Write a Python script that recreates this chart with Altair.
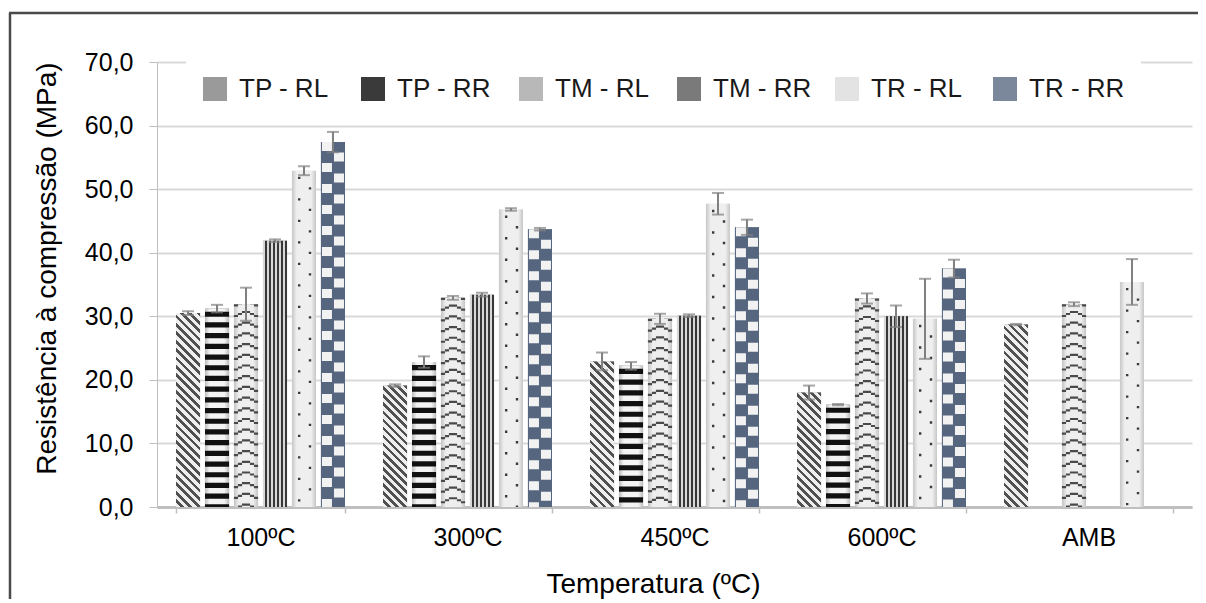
import altair as alt
import pandas as pd

# ---------------- data ----------------
categories = ["100ºC", "300ºC", "450ºC", "600ºC", "AMB"]
series_names = ["TP - RL", "TP - RR", "TM - RL", "TM - RR", "TR - RL", "TR - RR"]

tp_rl = [30.5, 19.1, 22.9, 18.0, 28.7]
tp_rl_err = [0.3, 0.2, 1.4, 1.1, 0.1]
tp_rr = [31.2, 22.8, 22.2, 16.1, None]
tp_rr_err = [0.6, 0.9, 0.6, 0.1, None]
tm_rl = [31.9, 32.9, 29.6, 32.8, 31.9]
tm_rl_err = [2.6, 0.3, 0.8, 0.8, 0.3]
tm_rr = [41.9, 33.4, 30.1, 30.0, None]
tm_rr_err = [0.2, 0.3, 0.2, 1.7, None]
tr_rl = [52.9, 46.8, 47.7, 29.6, 35.4]
tr_rl_err = [0.7, 0.2, 1.7, 6.3, 3.6]
tr_rr = [57.4, 43.7, 44.0, 37.5, None]
tr_rr_err = [1.6, 0.2, 1.2, 1.4, None]

y_ticks = [0, 10, 20, 30, 40, 50, 60, 70]

values = [tp_rl, tp_rr, tm_rl, tm_rr, tr_rl, tr_rr]
errors = [tp_rl_err, tp_rr_err, tm_rl_err, tm_rr_err, tr_rl_err, tr_rr_err]

rows = []
for s, vals, errs in zip(series_names, values, errors):
    for c, v, e in zip(categories, vals, errs):
        if v is None:
            continue
        rows.append({"cat": c, "series": s, "value": v, "lo": v - e, "hi": v + e})
df = pd.DataFrame(rows)

# ---------------- layout / style ----------------
FONT = "Liberation Sans"
W, H = 1035, 445
PI_X, PO_X, PI_O = 0.1836, 0.0918, 0.17
band_x = W / (len(categories) - PI_X + 2 * PO_X) * (1 - PI_X)
ostep = band_x / (len(series_names) - PI_O)
bar_w = ostep * (1 - PI_O)
px_per_unit = H / 70.0

legend_colors = ["#9a9a9a", "#3a3a3a", "#b8b8b8", "#7a7a7a", "#e3e3e3", "#7b879b"]

y_title = "Resistência à compressão (MPa)"
x_title = "Temperatura (ºC)"

x_axis = alt.Axis(labelFont=FONT, labelFontSize=25, labelColor="#000000", labelPadding=12,
                  labelAngle=0, tickSize=6, tickColor="#bfbfbf", tickWidth=1.5, tickBand="extent",
                  domainColor="#bfbfbf", domainWidth=3, grid=False,
                  titleFont=FONT, titleFontSize=28, titleFontWeight="normal", titleColor="#000000",
                  titleX=496, titleY=85, titleAlign="center", titleBaseline="alphabetic")
y_axis = alt.Axis(values=y_ticks, labelExpr="replace(format(datum.value, '.1f'), '.', ',')",
                  labelFont=FONT, labelFontSize=25, labelColor="#000000", labelPadding=16,
                  tickSize=8, tickColor="#bfbfbf", tickWidth=1, domainColor="#bfbfbf", domainWidth=1,
                  grid=True, gridColor="#d9d9d9", gridWidth=2,
                  titleFont=FONT, titleFontSize=28, titleFontWeight="normal", titleColor="#000000",
                  titleAngle=270, titleX=-102, titleY=206, titleAlign="center",
                  titleBaseline="alphabetic")

x_scale = alt.Scale(domain=categories, paddingInner=PI_X, paddingOuter=PO_X)
xo_scale = alt.Scale(domain=series_names, paddingInner=PI_O, paddingOuter=0)
y_scale = alt.Scale(domain=[0, 70])


def X(**kw):
    return alt.X("cat:N", scale=x_scale, axis=x_axis, title=x_title, **kw)


def XO():
    return alt.XOffset("series:N", scale=xo_scale)


def Y(field="value"):
    return alt.Y(f"{field}:Q", scale=y_scale, axis=y_axis, title=y_title)


def stop(o, c):
    return alt.GradientStop(offset=round(min(max(o, 0), 1), 5), color=c)


def bevel(edge, mid):
    return alt.LinearGradient(gradient="linear", x1=0, y1=0, x2=1, y2=0,
                              stops=[stop(0, edge), stop(0.2, mid), stop(0.8, mid), stop(1, edge)])


def diag(h, light="#eeeeee", dark="#505050", pitch=8.3, duty=0.55):
    w = bar_w
    k = (w + h) / (w * w + h * h)
    n = max(1, round((w + h) / pitch))
    st = []
    for i in range(n):
        a, b, c = i / n, (i + duty) / n, (i + 1) / n
        st += [stop(a, light), stop(b, light), stop(b, dark), stop(c, dark)]
    return alt.LinearGradient(gradient="linear", x1=0, y1=1, x2=k * w, y2=1 - k * h, stops=st)


def vstripes(n=6, light="#d8d8d8", dark="#383838", duty=0.5):
    st = []
    for i in range(n):
        a, b, c = i / n, (i + duty) / n, (i + 1) / n
        st += [stop(a, light), stop(b, light), stop(b, dark), stop(c, dark)]
    return alt.LinearGradient(gradient="linear", x1=0, y1=0, x2=1, y2=0, stops=st)


def band_pos(series, frac):
    i = series_names.index(series)
    return (i * ostep + frac * bar_w) / band_x


def sub(series):
    return alt.Chart(df).transform_filter(alt.datum.series == series)


def column_rule(series, frac, width, dash, offset, color):
    return sub(series).mark_rule(strokeWidth=width, strokeDash=dash, strokeDashOffset=offset,
                                 color=color).encode(
        x=X(bandPosition=band_pos(series, frac)), y=Y(), y2=alt.datum(0))


layers = []

# hidden bars carrying the legend
layers.append(alt.Chart(df).mark_bar().encode(
    x=X(), xOffset=XO(), y=Y(),
    color=alt.Color("series:N", scale=alt.Scale(domain=series_names, range=legend_colors),
                    legend=alt.Legend(orient="none", legendX=29, legendY=-2, direction="horizontal",
                                      columns=6, title=None, symbolType="square", symbolSize=576,
                                      symbolStrokeWidth=0, labelFont=FONT, labelFontSize=26,
                                      labelColor="#1a1a1a", labelOffset=11, columnPadding=22,
                                      fillColor="white", padding=16, gridAlign="all",
                                      labelLimit=300))))

# TP - RL : diagonal hatching (one gradient per bar so the angle stays at 45 degrees)
for c, v in zip(categories, tp_rl):
    layers.append(alt.Chart(df).transform_filter(
        (alt.datum.series == "TP - RL") & (alt.datum.cat == c)).mark_bar(
        fill=diag(v * px_per_unit)).encode(x=X(), xOffset=XO(), y=Y()))

# TP - RR : horizontal black bands
layers.append(sub("TP - RR").mark_bar(fill=bevel("#bcbcbc", "#f4f4f4")).encode(
    x=X(), xOffset=XO(), y=Y()))
layers.append(column_rule("TP - RR", 0.5, bar_w, [5.2, 5.5], 7.7, "#111111"))

# TM - RL : zig-zag lines
layers.append(sub("TM - RL").mark_bar(fill=bevel("#c4c4c4", "#eeeeee")).encode(
    x=X(), xOffset=XO(), y=Y()))
for j, off in enumerate([0, 2, 4, 4, 2, 0]):
    layers.append(column_rule("TM - RL", (j + 0.5) / 6, bar_w / 6 + 0.15, [2.2, 8.5], off, "#4a4a4a"))

# TM - RR : vertical lines
layers.append(sub("TM - RR").mark_bar(fill=vstripes()).encode(x=X(), xOffset=XO(), y=Y()))

# TR - RL : light with dots
layers.append(sub("TR - RL").mark_bar(fill=bevel("#c6c6c6", "#efefef")).encode(
    x=X(), xOffset=XO(), y=Y()))
layers.append(column_rule("TR - RL", 0.3, 2.4, [2.4, 19.1], 15.5, "#3a3a3a"))
layers.append(column_rule("TR - RL", 0.75, 2.4, [2.4, 19.1], 5.0, "#3a3a3a"))

# TR - RR : slate blue checks
layers.append(sub("TR - RR").mark_bar(fill="#56667f").encode(x=X(), xOffset=XO(), y=Y()))
layers.append(column_rule("TR - RR", 0.25, 10, [9, 12], 0, "#f2f2f2"))
layers.append(column_rule("TR - RR", 0.75, 10, [9, 12], 10.5, "#f2f2f2"))

# error bars
err_color = "#808080"
layers.append(alt.Chart(df).mark_rule(color=err_color, strokeWidth=2).encode(
    x=X(), xOffset=XO(), y=Y("lo"), y2="hi:Q"))
layers.append(alt.Chart(df).mark_tick(color=err_color, size=12, thickness=2).encode(
    x=X(), xOffset=XO(), y=Y("hi")))
layers.append(alt.Chart(df).mark_tick(color=err_color, size=12, thickness=2).encode(
    x=X(), xOffset=XO(), y=Y("lo")))

# outer frame of the chart area
frame_df = pd.DataFrame({"k": [0]})
layers.append(alt.Chart(frame_df).mark_rule(color="#4a4a4a", strokeWidth=2.5).encode(
    x=alt.value(-148), x2=alt.value(W + 30), y=alt.value(-49)))
layers.append(alt.Chart(frame_df).mark_rule(color="#4a4a4a", strokeWidth=2.5).encode(
    x=alt.value(-147), y=alt.value(-49), y2=alt.value(H + 120)))

chart = alt.layer(*layers).properties(
    width=W, height=H,
    padding={"left": 149, "top": 54, "right": 6, "bottom": 92},
    autosize=alt.AutoSizeParams(type="none"),
    background="white",
).configure_view(stroke="transparent")

chart.save("out.html", embed_options={"renderer": "svg", "actions": False})
